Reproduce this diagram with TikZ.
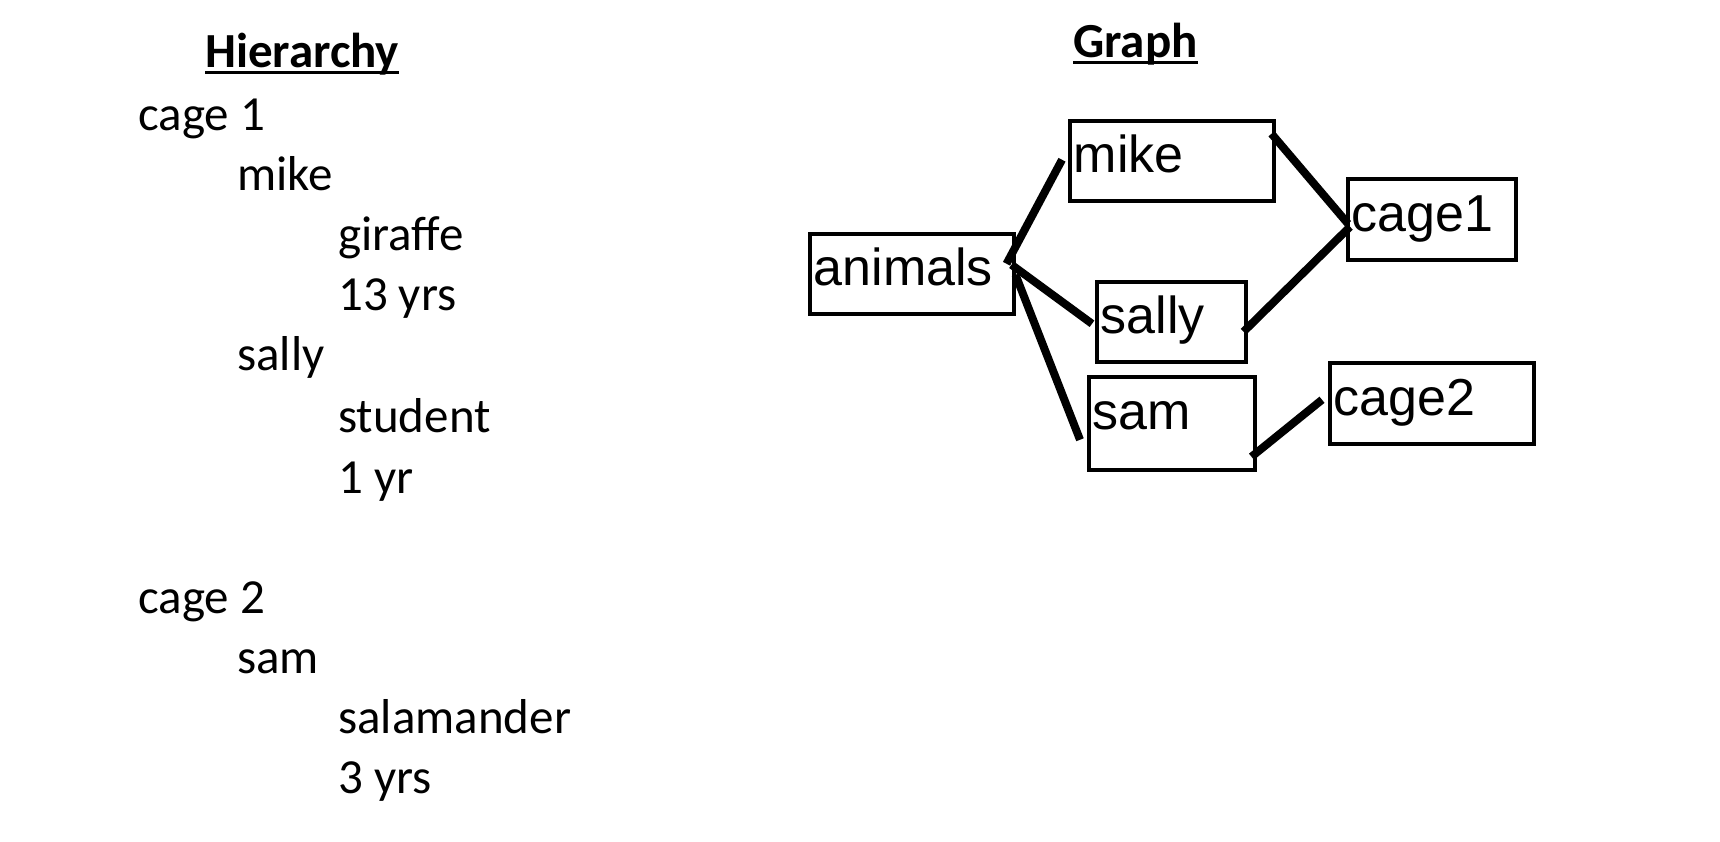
\documentclass[tikz,border=0pt]{standalone}
\usepackage{fontspec}
\setmainfont{Carlito}
\newfontfamily\arialfont{Liberation Sans}
\usetikzlibrary{calc}
\begin{document}
\begin{tikzpicture}[x=1pt,y=-1pt,
  htext/.style={anchor=base west, inner sep=0pt, font=\fontsize{49}{58}\selectfont},
  htitle/.style={anchor=base west, inner sep=0pt, font=\bfseries\fontsize{49}{58}\selectfont},
  uline/.style={line width=3pt},
  gbox/.style={draw, line width=3.5pt, anchor=north west, inner xsep=4pt, inner ysep=0pt,
    align=left, text height=36pt, text depth=12pt,
    font=\arialfont\fontsize{52}{60}\selectfont},
  conn/.style={line width=8pt}]
\useasboundingbox (0,0) rectangle (1720,841);
\fill[white] (0,0) rectangle (1720,841);

% ---- Hierarchy ----
\node[htitle] (hier) at (205,67) {Hierarchy};
\draw[uline] ([yshift=-5pt]hier.base west) -- ([yshift=-5pt]hier.base east);
\node[htext] (c1)  at (138,130) {cage 1};
\node[htext] (h1)  at (237,190) {mike};
\node[htext] (h2)  at (338,250) {giraffe};
\node[htext] (h3)  at (338,310) {13 yrs};
\node[htext] (h4)  at (237,370) {sally};
\node[htext] (h5)  at (338,432) {student};
\node[htext] (h6)  at (338,493) {1 yr};
\node[htext] (c2)  at (138,613) {cage 2};
\node[htext] (h7)  at (237,673) {sam};
\node[htext] (h8)  at (338,733) {salamander};
\node[htext] (h9)  at (338,793) {3 yrs};

% ---- Graph ----
\node[htitle] (graph) at (1073,57) {Graph};
\draw[uline] ([yshift=-5pt]graph.base west) -- ([yshift=-5pt]graph.base east);

\node[gbox, text width=196pt, minimum width=204pt, minimum height=80pt] (animals) at (808,232) {animals};
\node[gbox, text width=196pt, minimum width=204pt, minimum height=80pt] (mike) at (1068,119) {mike};
\node[gbox, text width=141pt, minimum width=149pt, minimum height=80pt] (sally) at (1095,280) {sally};
\node[gbox, text width=158pt, minimum width=166pt, minimum height=93pt, text depth=23pt] (sam) at (1087,375) {sam};
\node[gbox, text width=160pt, minimum width=168pt, minimum height=81pt] (cage1) at (1346,177) {cage1};
\node[gbox, text width=196pt, minimum width=204pt, minimum height=81pt] (cage2) at (1328,361) {cage2};

\draw[conn] ($(animals.east)+(-9,-10)$) -- ($(mike.west)+(-6,-1)$);
\draw[conn] ($(animals.east)+(-4,-9)$) -- ($(sally.west)+(-3,2)$);
\draw[conn] ($(animals.east)+(0,1)$) -- ($(sam.west)+(-7,16.5)$);
\draw[conn] ($(mike.east)+(-4,-27)$) -- ($(cage1.west)+(2,4.5)$);
\draw[conn] ($(sally.east)+(-4,10)$) -- ($(cage1.west)+(4,7.5)$);
\draw[conn] ($(sam.east)+(-5,33.5)$) -- ($(cage2.west)+(-6,-3.5)$);
\end{tikzpicture}
\end{document}
